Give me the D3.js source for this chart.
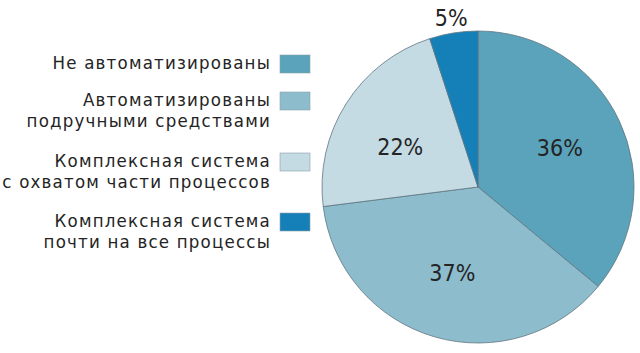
<!DOCTYPE html>
<html>
<head>
<meta charset="utf-8">
<script src="https://cdn.jsdelivr.net/npm/d3@7"></script>
<style>
  body { margin: 0; background: #fff; }
  svg text { font-family: "DejaVu Sans Condensed", "Liberation Sans Narrow", sans-serif; fill: #242424; }
</style>
</head>
<body>
<svg id="chart" width="640" height="353"></svg>
<script>
// data
var categories = [
  ["Не автоматизированы"],
  ["Автоматизированы", "подручными средствами"],
  ["Комплексная система", "с охватом части процессов"],
  ["Комплексная система", "почти на все процессы"]
];
var values = [36, 37, 22, 5];
var labels = ["36%", "37%", "22%", "5%"];
var colors = ["#5aa3bb", "#8dbccd", "#c4dbe4", "#1580b8"];

var svg = d3.select("#chart");

// pie
var cx = 478, cy = 187, r = 156;

var pie = d3.pie().sort(null).value(function(d){ return d; });
var arcs = pie(values);
var arc = d3.arc().innerRadius(0).outerRadius(r);

var g = svg.append("g").attr("transform", "translate(" + cx + "," + cy + ")");

g.selectAll("path.slice")
  .data(arcs)
  .enter().append("path")
  .attr("class", "slice")
  .attr("d", arc)
  .attr("fill", function(d, i){ return colors[i]; })
  .attr("stroke", "#5f7580")
  .attr("stroke-width", 0.8);

// label radius (fraction of r) and a small nudge, the 5% one sits outside
var labelR = [0.58, 0.59, 0.59, 1.1];
var nudgeY = [0, -2, 9, 0];
g.selectAll("text.pct")
  .data(arcs)
  .enter().append("text")
  .attr("class", "pct")
  .attr("text-anchor", "middle")
  .attr("font-size", 23)
  .attr("transform", function(d, i){
    var a = (d.startAngle + d.endAngle) / 2;
    var rr = r * labelR[i];
    return "translate(" + (Math.sin(a) * rr) + "," + (-Math.cos(a) * rr + 8 + nudgeY[i]) + ")";
  })
  .text(function(d, i){ return labels[i]; });

// legend
var legendY = [55, 92, 153, 213];
var leg = svg.append("g");
categories.forEach(function(lines, i){
  var y0 = legendY[i];
  leg.append("rect")
    .attr("x", 280).attr("y", y0)
    .attr("width", 30).attr("height", 18)
    .attr("fill", colors[i])
    .attr("stroke", "#8aa0a8")
    .attr("stroke-width", 0.6);
  lines.forEach(function(t, j){
    leg.append("text")
      .attr("x", 271)
      .attr("y", y0 + 14 + j * 20.5)
      .attr("text-anchor", "end")
      .attr("font-size", 18.5)
      .attr("letter-spacing", 1.2)
      .text(t);
  });
});
</script>
</body>
</html>
